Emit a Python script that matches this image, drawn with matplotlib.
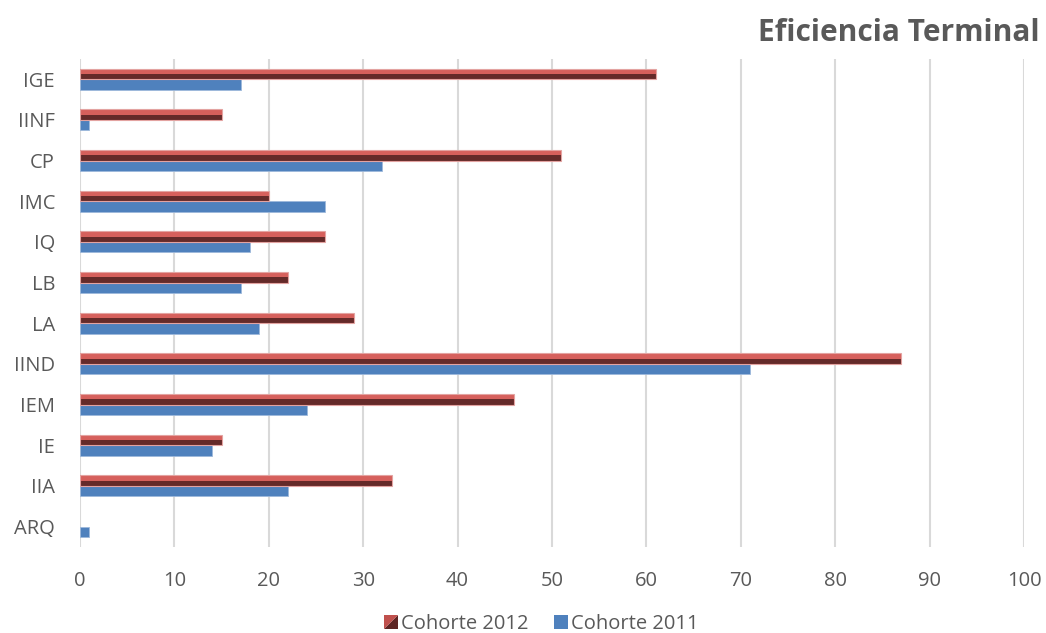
import matplotlib
matplotlib.use("Agg")
import matplotlib.pyplot as plt
import numpy as np
from matplotlib.patches import Patch
from matplotlib.legend_handler import HandlerBase
from matplotlib.patches import Rectangle, Polygon

categories = ["IGE", "IINF", "CP", "IMC", "IQ", "LB", "LA", "IIND", "IEM", "IE", "IIA", "ARQ"]
cohorte_2012 = [61, 15, 51, 20, 26, 22, 29, 87, 46, 15, 33, 0]
cohorte_2011 = [17, 1, 32, 26, 18, 17, 19, 71, 24, 14, 22, 1]
xticks = [0, 10, 20, 30, 40, 50, 60, 70, 80, 90, 100]

plt.rcParams['font.family'] = ['Open Sans', 'DejaVu Sans']
text_color = "#595959"

fig = plt.figure(figsize=(10.46, 6.33), dpi=100)
ax = fig.add_axes([0.0765, 0.136, 0.9025, 0.771])

y = np.arange(len(categories))
h = 0.26
red_light = "#D6605C"
red_dark = "#652A29"
red_edge = "#E3A3A1"
blue = "#4F81BD"

# red bar (3D look): light upper half, dark lower half
ax.barh(y - h, cohorte_2012, height=h / 2, align="edge", color=red_light,
        edgecolor="none", zorder=3)
ax.barh(y - h / 2, cohorte_2012, height=h / 2, align="edge", color=red_dark,
        edgecolor="none", zorder=3)
ax.barh(y - h, cohorte_2012, height=h, align="edge", color="none",
        edgecolor=red_edge,
        linewidth=[0.8 if v > 0 else 0 for v in cohorte_2012], zorder=4)
ax.barh(y, cohorte_2011, height=h, align="edge", color=blue,
        edgecolor="#9DB9DB",
        linewidth=[0.6 if v > 0 else 0 for v in cohorte_2011], zorder=3)

ax.set_xlim(0, 100)
ax.set_ylim(len(categories) - 0.5, -0.5)
ax.set_xticks(xticks)
ax.set_yticks(y)
ax.set_yticklabels(categories)
ax.grid(axis="x", color="#D9D9D9", linewidth=1.5, zorder=0)
ax.set_axisbelow(True)
for s in ax.spines.values():
    s.set_visible(False)
ax.tick_params(axis="both", length=0, labelsize=14.5, colors=text_color)
ax.tick_params(axis="y", pad=18)
ax.tick_params(axis="x", pad=17)

fig.text(0.994, 0.948, "Eficiencia Terminal", ha="right", va="center",
         fontsize=21.5, fontweight="bold", color=text_color)


class RedHandler(HandlerBase):
    def create_artists(self, legend, orig_handle, xdescent, ydescent, width,
                       height, fontsize, trans):
        s = height
        x0 = xdescent + (width - s) / 2
        y0 = -ydescent
        p1 = Polygon([[x0, y0], [x0 + s, y0], [x0 + s, y0 + s]], closed=True,
                     facecolor="#5E2524", edgecolor="none", transform=trans)
        p2 = Polygon([[x0, y0], [x0, y0 + s], [x0 + s, y0 + s]], closed=True,
                     facecolor="#C0504D", edgecolor="none", transform=trans)
        return [p1, p2]


class BlueHandler(HandlerBase):
    def create_artists(self, legend, orig_handle, xdescent, ydescent, width,
                       height, fontsize, trans):
        s = height
        x0 = xdescent + (width - s) / 2
        r = Rectangle((x0, -ydescent), s, s, facecolor=blue, edgecolor="none",
                      transform=trans)
        return [r]


h1 = Patch(color="#C0504D")
h2 = Patch(color=blue)
leg = fig.legend([h1, h2], ["Cohorte 2012", "Cohorte 2011"],
                 loc="center", bbox_to_anchor=(0.517, 0.014), ncol=2,
                 frameon=False, fontsize=14.5, handlelength=0.8,
                 handletextpad=0.1, columnspacing=1.2,
                 handler_map={h1: RedHandler(), h2: BlueHandler()})
for t in leg.get_texts():
    t.set_color(text_color)

fig.savefig("out.png", dpi=100)
